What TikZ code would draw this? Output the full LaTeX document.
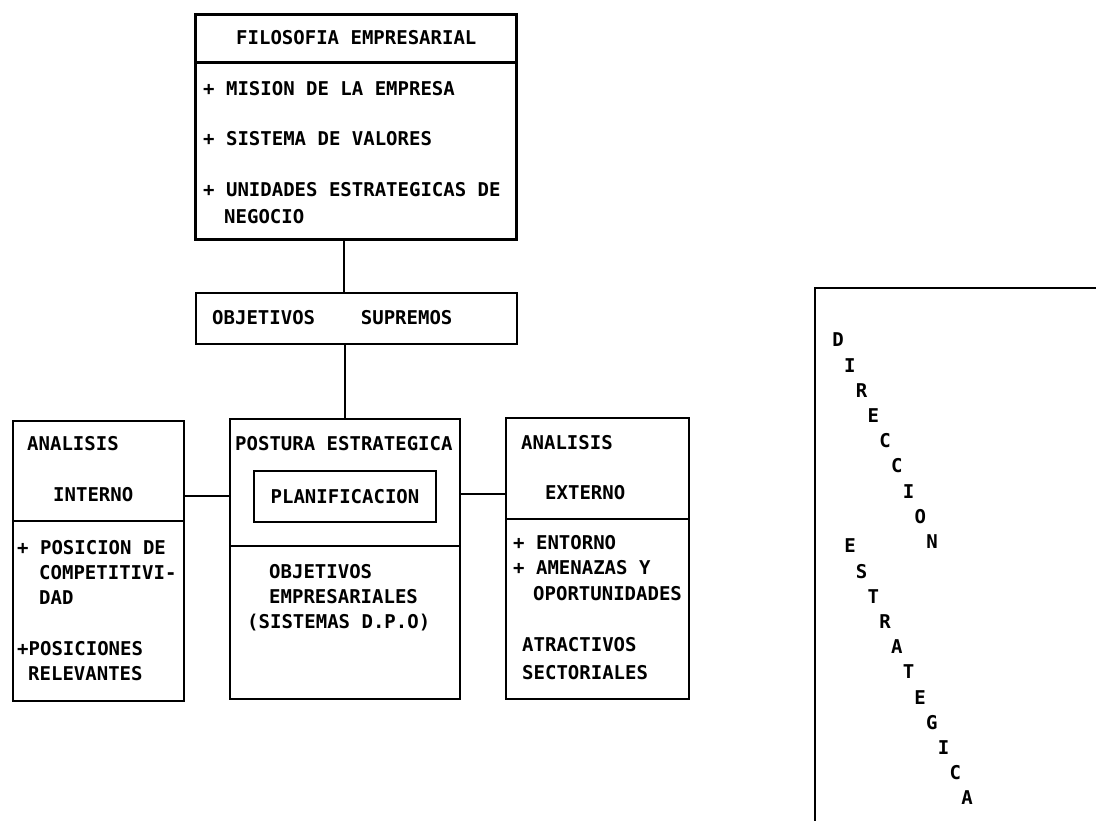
\documentclass[tikz,border=0pt]{standalone}
\usepackage{fontspec}
\newfontfamily\plotfont{DejaVu Sans Mono}[BoldFont={DejaVu Sans Mono Bold}]
\begin{document}
\begin{tikzpicture}[x=1pt,y=-1pt,
  txt/.style={anchor=base west, inner sep=0pt, font=\plotfont\bfseries\fontsize{19}{22}\selectfont},
  ctxt/.style={inner sep=0pt, font=\plotfont\bfseries\fontsize{19}{22}\selectfont},
  box/.style={draw, line width=2pt, inner sep=0pt, anchor=north west},
  heavybox/.style={box, line width=3pt},
  link/.style={line width=1.8pt},
  frame/.style={line width=1.6pt}]
\useasboundingbox (0,0) rectangle (1096,821);

% ---- boxes ----
\node[heavybox, minimum width=321pt, minimum height=225pt] (filo) at (194,13) {};
\node[box, line width=2.4pt, minimum width=321pt, minimum height=51pt] (obj) at (195,292) {};
\node[box, minimum width=171pt, minimum height=280pt] (lbox) at (12,420) {};
\node[box, minimum width=230pt, minimum height=280pt] (mid) at (229,418) {};
\node[box, minimum width=182pt, minimum height=51pt] (plan) at (253,470) {};
\node[box, minimum width=183pt, minimum height=281pt] (rbox) at (505,417) {};

% ---- dividers ----
\draw[line width=3pt] (filo.west |- 0,63) -- (filo.east |- 0,63);
\draw[line width=2pt] (lbox.west |- 0,521) -- (lbox.east |- 0,521);
\draw[line width=2pt] (mid.west |- 0,546) -- (mid.east |- 0,546);
\draw[line width=2pt] (rbox.west |- 0,519) -- (rbox.east |- 0,519);

% ---- connectors ----
\draw[link] (filo.south -| 344,0) -- (obj.north -| 344,0);
\draw[link] (obj.south -| mid.north) -- (mid.north);
\draw[link] (lbox.east |- 0,496) -- (mid.west |- 0,496);
\draw[link] (mid.east |- 0,494) -- (rbox.west |- 0,494);

% ---- open frame on the right ----
\draw[frame] (815,821) -- (815,288) -- (1096,288);

% ---- texts: filosofia ----
\node[txt] (t1) at (236,45) {FILOSOFIA EMPRESARIAL};
\node[txt] (t2) at (203,96) {+ MISION DE LA EMPRESA};
\node[txt] (t3) at (203,146) {+ SISTEMA DE VALORES};
\node[txt] (t4) at (203,197) {+ UNIDADES ESTRATEGICAS DE};
\node[txt] (t5) at (224,224) {NEGOCIO};

% ---- texts: objetivos supremos ----
\node[txt] (t6) at (212,324) {OBJETIVOS~~~~SUPREMOS};

% ---- texts: left box ----
\node[txt] (l1) at (27,450) {ANALISIS};
\node[txt] (l2) at (53,501) {INTERNO};
\node[txt] (l3) at (17,554) {+ POSICION DE};
\node[txt] (l4) at (39,579) {COMPETITIVI-};
\node[txt] (l5) at (39,604) {DAD};
\node[txt] (l6) at (17,655) {+POSICIONES};
\node[txt] (l7) at (28,680) {RELEVANTES};

% ---- texts: middle box ----
\node[txt] (m1) at (235,450) {POSTURA ESTRATEGICA};
\node[ctxt] (m2) at (plan.center) {PLANIFICACION};
\node[txt] (m3) at (269,578) {OBJETIVOS};
\node[txt] (m4) at (269,603) {EMPRESARIALES};
\node[txt] (m5) at (247,628) {(SISTEMAS D.P.O)};

% ---- texts: right box ----
\node[txt] (r1) at (521,449) {ANALISIS};
\node[txt] (r2) at (545,499) {EXTERNO};
\node[txt] (r3) at (513,549) {+ ENTORNO};
\node[txt] (r4) at (513,574) {+ AMENAZAS Y};
\node[txt] (r5) at (533,600) {OPORTUNIDADES};
\node[txt] (r6) at (522,651) {ATRACTIVOS};
\node[txt] (r7) at (522,679) {SECTORIALES};

% ---- diagonal title ----
\foreach \ch [count=\i from 0] in {D,I,R,E,C,C,I,O,N}
  \node[ctxt] (d\i) at (838+11.75*\i, 340+25.2*\i) {\ch};
\foreach \ch [count=\j from 0] in {E,S,T,R,A,T,E,G,I,C,A}
  \node[ctxt] (e\j) at (850+11.7*\j, 546+25.2*\j) {\ch};
\end{tikzpicture}
\end{document}
